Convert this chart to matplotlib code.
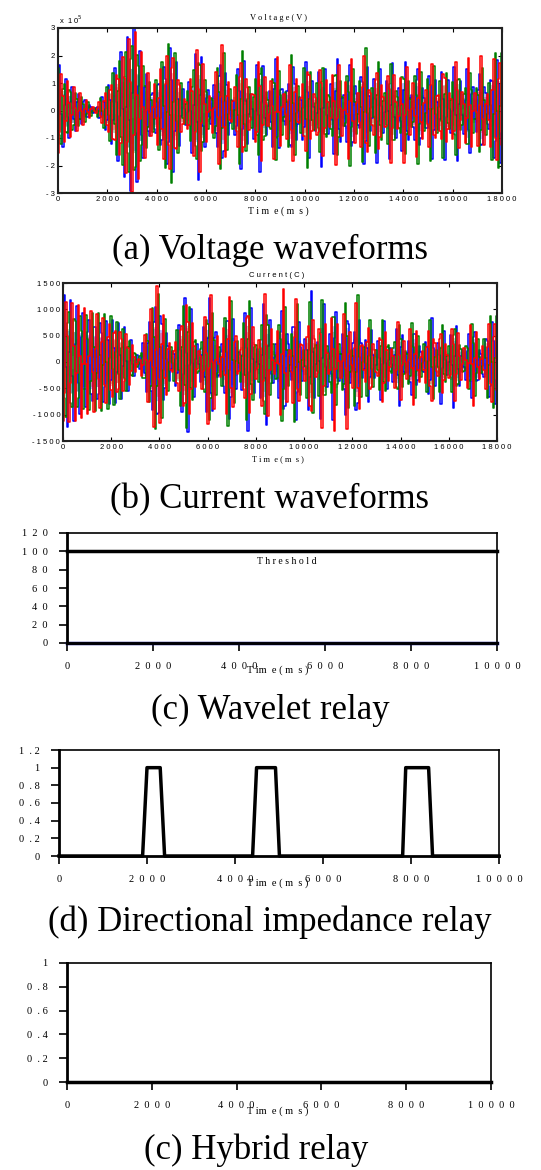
import numpy as np
import matplotlib
matplotlib.use("Agg")
import matplotlib.pyplot as plt

W, H = 541, 1170

# ---- data ----
# voltage (x 1e5): envelope of the three-phase bundle
volt_env_t = [0, 200, 700, 1100, 1500, 2000, 2500, 3050]
volt_env_a = [1.8, 1.3, 0.8, 0.45, 0.05, 0.9, 2.0, 3.2]
volt_peak_t = [4600, 5700, 6650, 7450, 8200, 8850, 9500, 10100, 10700, 11300, 11850,
               12450, 12950, 13500, 14050, 14600, 15150, 15650, 16150, 16650, 17150, 17650]
volt_peak_a = [2.7, 2.6, 2.5, 2.4, 2.3, 2.2, 2.2, 2.2, 2.1, 2.2, 2.2,
               2.5, 2.1, 2.1, 2.1, 2.1, 2.1, 2.0, 2.1, 2.0, 2.0, 2.1]
volt_trough_a = [0.8, 0.4, 0.4, 0.4, 0.5, 0.5, 0.5, 0.5, 0.6, 0.6, 0.6,
                 0.6, 0.6, 0.6, 0.6, 0.6, 0.6, 0.6, 0.6, 0.6, 0.6, 0.6]

# current (A): envelope of the three-phase bundle
cur_env_t = [0, 300, 1000, 2000, 2600, 3150, 3900]
cur_env_a = [1300, 1200, 1000, 880, 650, 50, 1480]
cur_peak_t = [5150, 6100, 6900, 7700, 8400, 9150, 9650, 10300, 10750, 11250, 11750, 12200,
              12700, 13250, 13950, 14500, 15300, 15700, 16200, 17000, 17700]
cur_peak_a = [1420, 1400, 1380, 1400, 1400, 1420, 1380, 1400, 1420, 1400, 1420, 1400,
              900, 900, 900, 880, 920, 880, 900, 880, 880]
cur_trough_a = [200, 200, 200, 200, 200, 200, 200, 200, 200, 200, 200, 200,
                200, 200, 200, 200, 200, 200, 200, 200, 200]

wave_period = 250      # ms, apparent carrier period
wave_dt = 64           # ms, sample step

# relay outputs
wavelet_t = [0, 10000]
wavelet_v = [0, 0]
threshold = 100
direc_t = [0, 1900, 2000, 2300, 2400, 4400, 4490, 4920, 5010, 7810, 7880, 8400, 8490, 10000]
direc_v = [0, 0, 1, 1, 0, 0, 1, 1, 0, 0, 1, 1, 0, 0]
hybrid_t = [0, 10000]
hybrid_v = [0, 0]

wave_xticks = list(range(0, 18001, 2000))
volt_yticks = [-3, -2, -1, 0, 1, 2, 3]
cur_yticks = [-1500, -1000, -500, 0, 500, 1000, 1500]
relay_xticks = list(range(0, 10001, 2000))
wavelet_yticks = [0, 20, 40, 60, 80, 100, 120]
direc_yticks = [0, 0.2, 0.4, 0.6, 0.8, 1, 1.2]
hybrid_yticks = [0, 0.2, 0.4, 0.6, 0.8, 1]

captions = ["(a) Voltage waveforms", "(b) Current waveforms", "(c) Wavelet relay",
            "(d) Directional impedance relay", "(c) Hybrid relay"]


def spaced(s, sep=" "):
    return sep.join(list(s))


def num_label(v):
    s = "%g" % v
    if "." in s:
        return spaced(s.replace(".", " ."), " ").replace("  ", " ")
    return spaced(s, "  ")


def envelope(env_t, env_a, peak_t, peak_a, trough_a):
    # interleave troughs between successive lobe peaks
    ts, vs = list(env_t), list(env_a)
    prev = env_t[-1]
    for pt, pa, ta in zip(peak_t, peak_a, trough_a):
        ts.append((prev + pt) / 2)
        vs.append(ta)
        ts.append(pt)
        vs.append(pa)
        prev = pt
    return np.array(ts), np.array(vs)


def axes_px(fig, left, top, right, bottom):
    return fig.add_axes([left / W, 1 - bottom / H, (right - left) / W, (bottom - top) / H])


def ftext(fig, x, y, s, **kw):
    fig.text(x / W, 1 - y / H, s, ha=kw.pop("ha", "center"), va=kw.pop("va", "center"), **kw)


fig = plt.figure(figsize=(W / 100, H / 100), dpi=100)
fig.patch.set_facecolor("white")

phase_cols = ["#0000ff", "#008000", "#ff0000"]


def draw_waves(ax, env_t, env_a):
    t = np.arange(0, 18000 + wave_dt, wave_dt)
    env = np.interp(t, env_t, env_a)
    for k, c in enumerate(phase_cols):
        y = 0.5 * env * np.sin(2 * np.pi * t / wave_period + 2 * np.pi * k / 3 + np.pi / 3)
        ax.plot(t, y, color=c, lw=1.6, alpha=0.3, drawstyle="steps-mid")
    for k, c in enumerate(phase_cols):
        y = env * np.sin(2 * np.pi * t / wave_period + 2 * np.pi * k / 3)
        ax.plot(t, y, color=c, lw=1.1, drawstyle="steps-mid")


def style_wave_axes(ax, yticks, ylabels):
    ax.set_xlim(0, 18000)
    ax.set_xticks(wave_xticks)
    ax.set_xticklabels([spaced(str(v)) for v in wave_xticks], fontsize=5.5,
                       family="Liberation Sans")
    ax.set_yticks(yticks)
    ax.set_yticklabels(ylabels, fontsize=5.5, family="Liberation Sans")
    ax.tick_params(direction="in", length=3, width=0.8, top=True, right=True, pad=2)
    for sp in ax.spines.values():
        sp.set_linewidth(1.5)
        sp.set_color("#222222")


# (a) voltage
ax = axes_px(fig, 58, 28, 502, 193)
vt, va = envelope(volt_env_t, volt_env_a, volt_peak_t, volt_peak_a, volt_trough_a)
draw_waves(ax, vt, va)
ax.set_ylim(-3, 3)
style_wave_axes(ax, volt_yticks, [spaced(str(v)) for v in volt_yticks])
ftext(fig, 278, 18, spaced("Voltage(V)"), fontsize=6, family="Liberation Serif")
ftext(fig, 59, 20, r"x  1 0$^{5}$", fontsize=5.5, family="Liberation Sans", ha="left")
ftext(fig, 278, 211, "T i m  e ( m  s )", fontsize=7, family="Liberation Serif")

# (b) current
ax = axes_px(fig, 63, 283, 497, 441)
ct, ca = envelope(cur_env_t, cur_env_a, cur_peak_t, cur_peak_a, cur_trough_a)
draw_waves(ax, ct, ca)
ax.set_ylim(-1500, 1500)
style_wave_axes(ax, cur_yticks, [spaced(str(v)) for v in cur_yticks])
ftext(fig, 277, 275, spaced("Current(C)"), fontsize=5.5, family="Liberation Sans")
ftext(fig, 278, 459, "T i m  e ( m  s )", fontsize=6, family="Liberation Serif")


def style_relay_axes(ax, yticks, ylim):
    ax.set_xlim(0, 10000)
    ax.set_ylim(*ylim)
    ax.set_xticks(relay_xticks)
    ax.set_xticklabels([spaced(str(v), "  ") for v in relay_xticks], fontsize=7.5,
                       family="Liberation Serif")
    ax.set_yticks(yticks)
    ax.set_yticklabels([num_label(v) for v in yticks], fontsize=7.5, family="Liberation Serif")
    ax.tick_params(direction="out", length=6, width=1.2, pad=8)
    for sp in ax.spines.values():
        sp.set_linewidth(1.2)
        sp.set_color("black")
    ax.spines["left"].set_linewidth(2)
    ax.spines["bottom"].set_linewidth(2)


# (c) wavelet relay
ax = axes_px(fig, 67, 533, 497, 643)
ax.plot(wavelet_t, [threshold, threshold], color="black", lw=2.5, clip_on=False)
ax.plot(wavelet_t, wavelet_v, color="#000080", lw=2.5, clip_on=False)
style_relay_axes(ax, wavelet_yticks, (0, 120))
ax.text(5116, 89, spaced("Threshold"), fontsize=7, family="Liberation Serif",
        ha="center", va="center")
ftext(fig, 278, 670, "T im  e ( m  s )", fontsize=7.5, family="Liberation Serif")

# (d) directional impedance relay
ax = axes_px(fig, 59, 750, 499, 856)
ax.plot(direc_t, direc_v, color="black", lw=2.5, clip_on=False)
style_relay_axes(ax, direc_yticks, (0, 1.2))
ftext(fig, 278, 883, "T im  e ( m  s )", fontsize=7.5, family="Liberation Serif")

# (e) hybrid relay
ax = axes_px(fig, 67, 963, 491, 1082)
ax.plot(hybrid_t, hybrid_v, color="black", lw=2.5, clip_on=False)
style_relay_axes(ax, hybrid_yticks, (0, 1))
ftext(fig, 278, 1111, "T im  e ( m  s )", fontsize=7.5, family="Liberation Serif")

# captions
for y, cap in zip([250, 500, 710, 922, 1150], captions):
    ftext(fig, 270 if y < 1100 else 256, y, cap, fontsize=25, family="Liberation Serif")

fig.savefig("out.png", dpi=100)
